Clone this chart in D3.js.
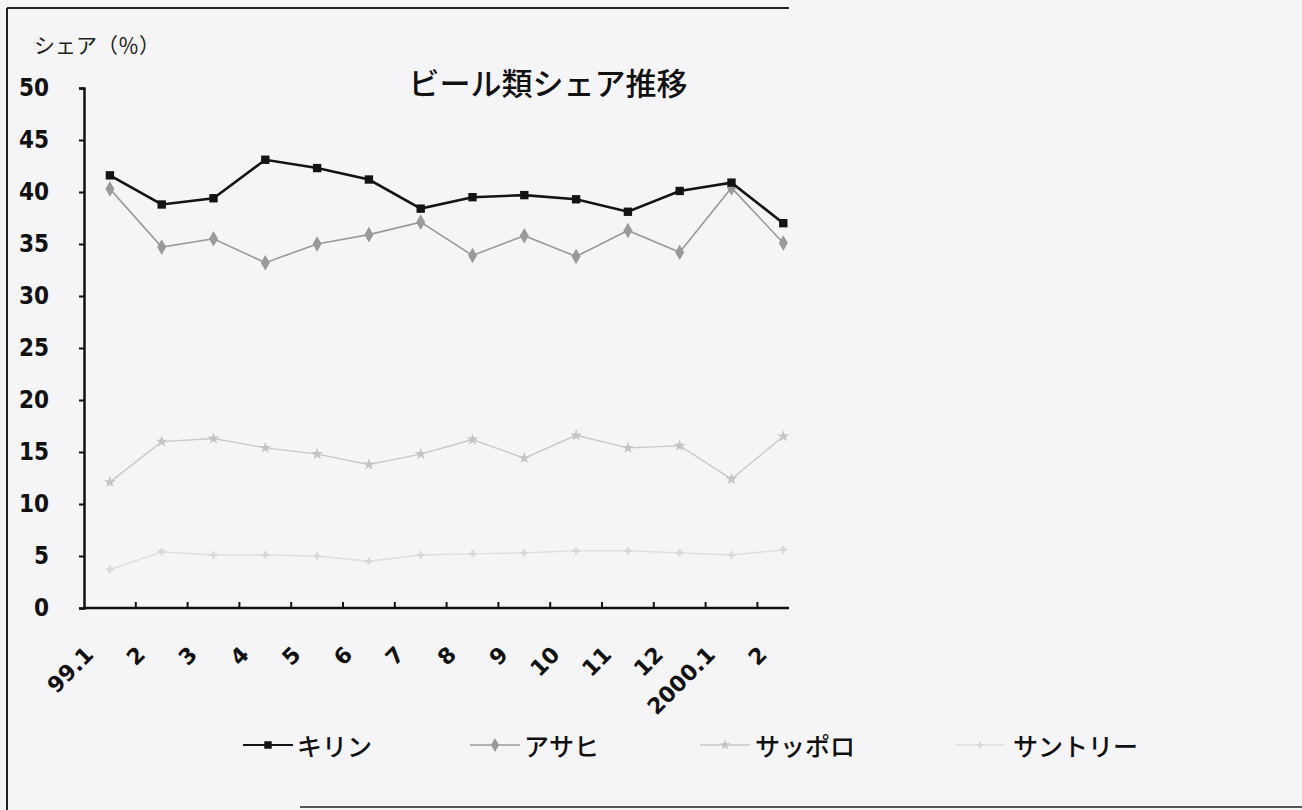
<!DOCTYPE html>
<html>
<head>
<meta charset="utf-8">
<script src="https://cdn.jsdelivr.net/npm/d3@7"></script>
<style>
  html, body { margin: 0; padding: 0; background: #f5f4f7; }
  svg { display: block; }
</style>
</head>
<body>
<svg id="chart" width="1302" height="810"></svg>
<script>
// ---- data ----
const categories = ["99.1","2","3","4","5","6","7","8","9","10","11","12","2000.1","2"];
const kirin   = [41.6, 38.8, 39.4, 43.1, 42.3, 41.2, 38.4, 39.5, 39.7, 39.3, 38.1, 40.1, 40.9, 37.0];
const asahi   = [40.3, 34.7, 35.5, 33.2, 35.0, 35.9, 37.1, 33.9, 35.8, 33.8, 36.3, 34.2, 40.4, 35.1];
const sapporo = [12.1, 16.0, 16.3, 15.4, 14.8, 13.8, 14.8, 16.2, 14.4, 16.6, 15.4, 15.6, 12.4, 16.5];
const suntory = [3.7, 5.4, 5.1, 5.1, 5.0, 4.5, 5.1, 5.2, 5.3, 5.5, 5.5, 5.3, 5.1, 5.6];
const seriesNames = ["キリン", "アサヒ", "サッポロ", "サントリー"];
const yTicks = [0, 5, 10, 15, 20, 25, 30, 35, 40, 45, 50];
const titleText = "ビール類シェア推移";
const yTitleText = "シェア（％）";

(function () {
// ---- layout ----
const svg = d3.select("#chart");
const W = 1302, H = 810;
const plotLeft = 84, bandW = 51.8, plotTop = 88, plotBottom = 608;
const clipRight = 789;

const x = d3.scaleBand().domain(d3.range(categories.length))
  .range([plotLeft, plotLeft + bandW * categories.length]).paddingInner(0).paddingOuter(0);
const y = d3.scaleLinear().domain([0, 50]).range([plotBottom, plotTop]);

const styles = [
  { color: "#141414", width: 2.6, symbol: d3.symbolSquare, size: 70, fill: "#141414" },
  { color: "#9a9a9a", width: 1.6, symbol: d3.symbolDiamond, size: 70, fill: "#9a9a9a" },
  { color: "#c9c9c9", width: 1.4, symbol: d3.symbolStar, size: 45, fill: "#c4c4c4" },
  { color: "#dedede", width: 1.4, symbol: d3.symbolCross, size: 30, fill: "#d8d8d8" }
];
const data = [kirin, asahi, sapporo, suntory];

// frame lines (scan border)
svg.append("line").attr("x1", 7).attr("x2", 7).attr("y1", 8).attr("y2", 810)
  .attr("stroke", "#222").attr("stroke-width", 2);
svg.append("line").attr("x1", 7).attr("x2", clipRight).attr("y1", 8).attr("y2", 8)
  .attr("stroke", "#222").attr("stroke-width", 2);
svg.append("line").attr("x1", 300).attr("x2", W).attr("y1", 807).attr("y2", 807)
  .attr("stroke", "#555").attr("stroke-width", 2);

const defs = svg.append("defs");
defs.append("clipPath").attr("id", "clip")
  .append("rect").attr("x", 0).attr("y", 0).attr("width", clipRight).attr("height", H);

const g = svg.append("g").attr("clip-path", "url(#clip)");

// Title
svg.append("text").attr("x", 548).attr("y", 95)
  .attr("text-anchor", "middle")
  .attr("font-family", "'Noto Sans CJK JP', sans-serif")
  .attr("font-weight", 500)
  .attr("font-size", 31).attr("fill", "#111")
  .text(titleText);

// y title
svg.append("text").attr("x", 34).attr("y", 53)
  .attr("font-family", "'Noto Sans CJK JP', sans-serif")
  .attr("font-size", 21).attr("fill", "#222")
  .text(yTitleText);

// y axis
const yAxis = d3.axisLeft(y).tickValues(yTicks).tickSize(5).tickPadding(30);
const yg = g.append("g").attr("transform", `translate(${plotLeft},0)`).call(yAxis);
yg.select(".domain").attr("stroke", "#111").attr("stroke-width", 2.5);
yg.selectAll(".tick line").attr("stroke", "#111").attr("stroke-width", 2);
yg.selectAll(".tick text")
  .attr("font-family", "'Liberation Sans Narrow', 'DejaVu Sans Condensed', sans-serif")
  .attr("font-weight", "bold").attr("font-size", 24).attr("fill", "#111");

// x axis (ticks between categories)
const xEdges = d3.range(categories.length + 1).map(i => plotLeft + i * bandW);
const xg = g.append("g");
xg.append("line").attr("x1", plotLeft).attr("x2", x.range()[1])
  .attr("y1", plotBottom).attr("y2", plotBottom)
  .attr("stroke", "#111").attr("stroke-width", 2.5);
xg.selectAll("line.tick").data(xEdges.slice(1)).join("line")
  .attr("class", "tick")
  .attr("x1", d => d).attr("x2", d => d)
  .attr("y1", plotBottom).attr("y2", plotBottom - 6)
  .attr("stroke", "#111").attr("stroke-width", 2);
xg.selectAll("text").data(categories).join("text")
  .attr("transform", (d, i) => `translate(${x(i) + x.bandwidth() / 2 - 15},${plotBottom + 48}) rotate(-45)`)
  .attr("text-anchor", "end")
  .attr("font-family", "'DejaVu Sans', sans-serif")
  .attr("font-weight", "bold").attr("font-size", 22).attr("fill", "#111")
  .text(d => d);

// series
const line = d3.line().x((d, i) => x(i) + x.bandwidth() / 2).y(d => y(d));
[3, 2, 1, 0].forEach(k => {
  const s = styles[k];
  g.append("path").datum(data[k])
    .attr("d", line).attr("fill", "none")
    .attr("stroke", s.color).attr("stroke-width", s.width);
  g.selectAll(null).data(data[k]).join("path")
    .attr("transform", (d, i) => `translate(${x(i) + x.bandwidth() / 2},${y(d)})`)
    .attr("d", d3.symbol().type(s.symbol).size(s.size))
    .attr("fill", s.fill);
});

// legend
const legendX = [243, 470, 700, 955];
const legendY = 745;
const lg = svg.append("g");
seriesNames.forEach((name, k) => {
  const s = styles[k];
  const x0 = legendX[k];
  lg.append("line").attr("x1", x0).attr("x2", x0 + 50)
    .attr("y1", legendY).attr("y2", legendY)
    .attr("stroke", s.color).attr("stroke-width", k === 0 ? 2.2 : 1.4);
  lg.append("path").attr("transform", `translate(${x0 + 25},${legendY})`)
    .attr("d", d3.symbol().type(s.symbol).size(s.size * 0.8))
    .attr("fill", s.fill);
  lg.append("text").attr("x", x0 + (k === 2 ? 55 : 54) + (k === 3 ? 4 : 0)).attr("y", legendY + 11)
    .attr("font-family", "'Noto Sans CJK JP', sans-serif")
    .attr("font-weight", 500)
    .attr("font-size", 25).attr("fill", "#111")
    .text(name);
});
})();
</script>
</body>
</html>
